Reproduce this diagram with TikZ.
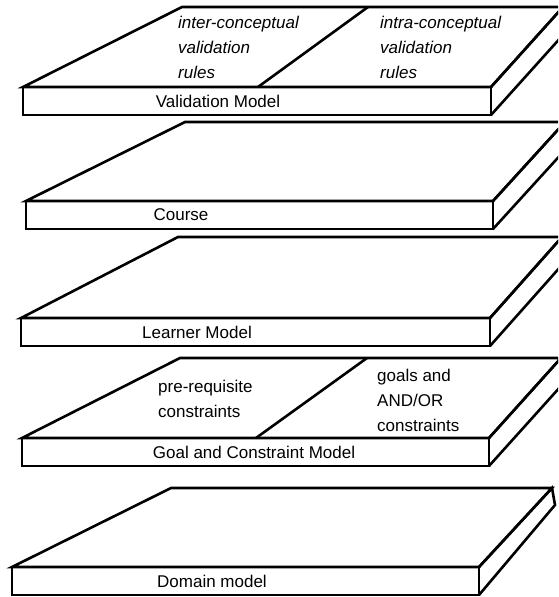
\documentclass[tikz,border=0pt]{standalone}
\usepackage{fontspec}
\setmainfont{Liberation Sans}
\newcommand\drawslab[8]{%
  % #1 L, #2 box top, #3 back-left x, #4 back y, #5 R, #6 back-right x, #7 #8 back-right bottom
  \draw[slabline] (#1,#2) -- (#3,#4) -- (#6,#4) -- (#5,#2) -- cycle;
  \draw[slabline] (#1,#2) rectangle (#5,#2+28);
  \draw[slabline] (#5,#2) -- (#6,#4) -- (#7,#8) -- (#5,#2+28);
}
\begin{document}
\begin{tikzpicture}[x=1pt,y=-1pt,
  slabline/.style={draw=black, line width=2.6pt, line join=miter},
  boxlabel/.style={font=\fontsize{17}{25}\selectfont, inner sep=0pt},
  rulelabel/.style={font=\fontsize{17}{25}\selectfont\itshape, inner sep=0pt, align=left, anchor=west},
  plainlabel/.style={font=\fontsize{17}{25}\selectfont, inner sep=0pt, align=left, anchor=west}]
\useasboundingbox (0,0) rectangle (558,597);
\clip (0,0) rectangle (558,597);

% Validation Model
\drawslab{23}{87}{182}{7}{491}{563}{563}{35}
\draw[slabline] (258,87) -- (368,7);
\node[rulelabel] (inter) at (178,47) {inter-conceptual\\validation\\rules};
\node[rulelabel] (intra) at (380,47) {intra-conceptual\\validation\\rules};
\node[boxlabel] (valid) at (218,101) {Validation Model};

% Course
\drawslab{26}{201}{185}{122}{493}{565}{565}{150}
\node[boxlabel] (course) at (181,215) {Course};

% Learner Model
\drawslab{21}{318}{178}{237}{490}{562}{562}{265}
\node[boxlabel] (learner) at (197,332) {Learner Model};

% Goal and Constraint Model
\drawslab{22}{438}{180}{358}{489}{561}{561}{386}
\draw[slabline] (256,438) -- (367,358);
\node[plainlabel] (prereq) at (158,399) {pre-requisite\\constraints};
\node[plainlabel] (goals) at (377,400) {goals and\\AND/OR\\constraints};
\node[boxlabel] (goal) at (254,452) {Goal and Constraint Model};

% Domain model
\drawslab{12}{567}{171}{488}{479}{552}{555}{505}
\node[boxlabel] (domain) at (212,581) {Domain model};
\end{tikzpicture}
\end{document}
